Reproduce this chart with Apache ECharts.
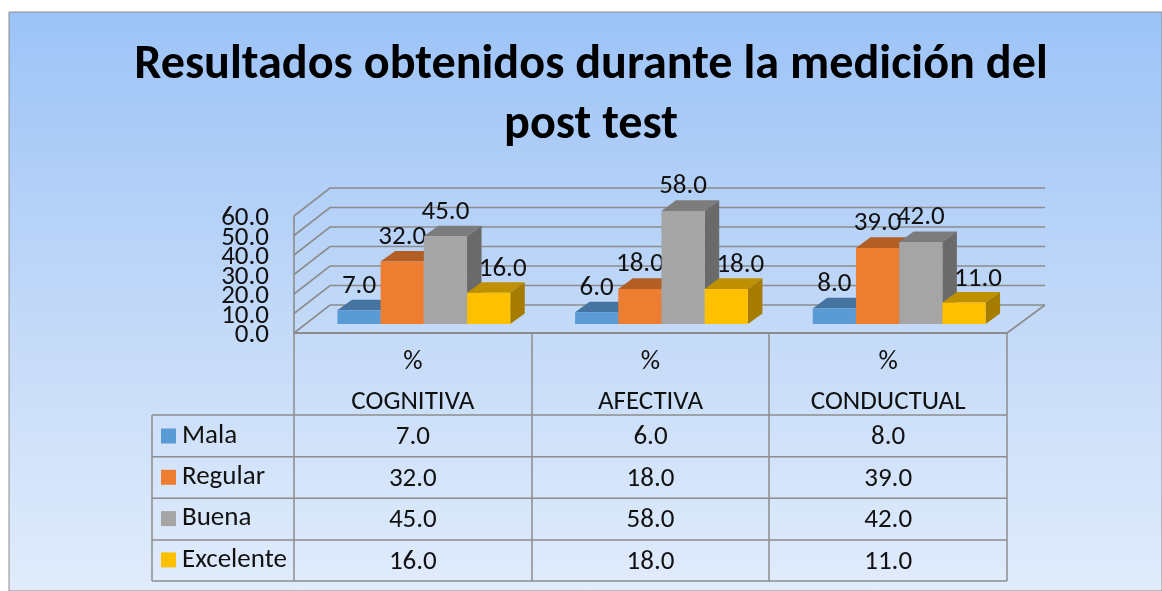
<!DOCTYPE html>
<html><head><meta charset="utf-8">
<style>html,body{margin:0;padding:0;background:#fff}#c{width:1162px;height:591px}</style>
<script src="https://cdn.jsdelivr.net/npm/echarts@6/dist/echarts.min.js"></script>
</head><body><div id="c"></div>
<script>
const categories = ['COGNITIVA', 'AFECTIVA', 'CONDUCTUAL'];
const unitRow = ['%', '%', '%'];
const mala = [7, 6, 8];
const regular = [32, 18, 39];
const buena = [45, 58, 42];
const excelente = [16, 18, 11];
const seriesNames = ['Mala', 'Regular', 'Buena', 'Excelente'];
const yTicks = [0, 10, 20, 30, 40, 50, 60];
const titleText = 'Resultados obtenidos durante la medición del\npost test';

const FONT = 'Carlito, Lato, sans-serif';
const LINE = '#8c8c8c';
const faces = [
  {front: '#5b9bd5', top: '#44749f', side: '#3a6690', labelDx: 0, labelDy: 24.5},
  {front: '#ed7d31', top: '#b25e25', side: '#9c5220', labelDx: 0, labelDy: 24.5},
  {front: '#a5a5a5', top: '#7c7c7c', side: '#6a6a6a', labelDx: 0, labelDy: 24.5},
  {front: '#ffc000', top: '#bf9000', side: '#a67c00', labelDx: 14, labelDy: 23.5}
];
const allValues = [mala, regular, buena, excelente];
const DEPTH_X = 36, DEPTH_Y = 28;           // wall depth
const BAR_DX = 11, BAR_DY = 9;              // bars stand inside the floor
const BAR_SIDE_X = 14.5, BAR_SIDE_Y = 10.6; // depth of a bar
const ROW_Y = [415, 456.7, 498.3, 540, 581];
const TABLE_L = 152, TABLE_R = 1007, FLOOR_Y = 333, LEFT = 294;
const VAL_SIZE = 27, TXT_SIZE = 27;

function barSeries(sIdx) {
  const c = faces[sIdx];
  return {
    type: 'custom', name: seriesNames[sIdx], coordinateSystem: 'cartesian2d',
    itemStyle: {color: c.front},
    z: 5 + sIdx,
    data: allValues[sIdx].map((v, i) => [i, v]),
    encode: {x: 0, y: 1},
    renderItem(params, api) {
      const cat = api.value(0), val = api.value(1);
      const top = api.coord([cat, val]), base = api.coord([cat, 0]);
      const bw = api.size([1, 0])[0] / 5.5;
      const x = top[0] + BAR_DX - 2 * bw + sIdx * bw;
      const y0 = top[1] - BAR_DY, y1 = base[1] - BAR_DY;
      const dx = BAR_SIDE_X, dy = BAR_SIDE_Y;
      return {type: 'group', children: [
        {type: 'polygon', shape: {points: [[x, y0], [x + dx, y0 - dy], [x + bw + dx, y0 - dy], [x + bw, y0]]}, style: {fill: c.top}},
        {type: 'polygon', shape: {points: [[x + bw, y0], [x + bw + dx, y0 - dy], [x + bw + dx, y1 - dy], [x + bw, y1]]}, style: {fill: c.side}},
        {type: 'rect', shape: {x: x, y: y0, width: bw, height: y1 - y0}, style: {fill: c.front}},
        {type: 'text', z2: 100, style: {x: x + bw / 2 + c.labelDx, y: y0 - c.labelDy, text: val.toFixed(1), fill: '#111', font: VAL_SIZE + 'px ' + FONT, align: 'center', verticalAlign: 'middle'}}
      ]};
    }
  };
}

// Walls and floor of the 3D box, with the value-axis tick labels (they overlap on purpose).
const wallSeries = {
  type: 'custom', coordinateSystem: 'cartesian2d', z: 1, silent: true,
  data: yTicks.map(t => [0, t]),
  encode: {y: 1},
  renderItem(params, api) {
    const tick = api.value(1);
    const y = api.coord([0, tick])[1];
    const rightBack = TABLE_R + 38;
    const st = {stroke: LINE, lineWidth: 1.6, fill: 'none'};
    const kids = [
      {type: 'polyline', shape: {points: [[LEFT, y], [LEFT + DEPTH_X, y - DEPTH_Y], [rightBack, y - DEPTH_Y]]}, style: st},
      {type: 'text', z2: 50, style: {x: 269, y: y + 2.5, text: tick.toFixed(1), fill: '#111', font: VAL_SIZE + 'px ' + FONT, align: 'right', verticalAlign: 'middle'}}
    ];
    if (tick === 0) kids.push({type: 'line', shape: {x1: TABLE_R, y1: y, x2: rightBack, y2: y - DEPTH_Y}, style: st});
    return {type: 'group', children: kids};
  }
};

const tableRows = [unitRow, categories].concat(allValues.map(a => a.map(v => v.toFixed(1))));
const tableCells = [];
tableRows.forEach((row, r) => row.forEach((t, c) => tableCells.push([c, r, t])));
const ROW_TEXT_Y = [362, 402, 437.5, 479, 520.5, 562];
const tableSeries = {
  type: 'custom', coordinateSystem: 'cartesian2d', z: 20, silent: true,
  data: tableCells,
  encode: {x: 0},
  renderItem(params, api) {
    const x = api.coord([api.value(0), 0])[0];
    const cell = tableCells[params.dataIndex];
    return {type: 'text', style: {x: x, y: ROW_TEXT_Y[cell[1]], text: cell[2], fill: '#111', font: TXT_SIZE + 'px ' + FONT, align: 'center', verticalAlign: 'middle'}};
  }
};

const tableLines = [];
ROW_Y.forEach(y => tableLines.push({type: 'line', z: 10, shape: {x1: TABLE_L, y1: y, x2: TABLE_R, y2: y}, style: {stroke: LINE, lineWidth: 1.5}}));
tableLines.push({type: 'line', z: 10, shape: {x1: TABLE_L, y1: ROW_Y[0], x2: TABLE_L, y2: ROW_Y[4]}, style: {stroke: LINE, lineWidth: 1.5}});
[LEFT, 532, 769, TABLE_R].forEach(x => tableLines.push({type: 'line', z: 10, shape: {x1: x, y1: FLOOR_Y, x2: x, y2: ROW_Y[4]}, style: {stroke: LINE, lineWidth: 1.5}}));

const chart = echarts.init(document.getElementById('c'), null, {renderer: 'canvas'});
chart.setOption({
  animation: false,
  backgroundColor: '#fff',
  title: {
    text: titleText, left: 586, top: 31, textAlign: 'center',
    textStyle: {fontFamily: FONT, fontWeight: 'bold', fontSize: 48.2, lineHeight: 60, color: '#000'}
  },
  legend: {
    data: seriesNames, orient: 'vertical', left: 156, top: 417.5, height: 173, itemWidth: 15, itemHeight: 15, itemGap: 14.3, icon: 'rect',
    selectedMode: false,
    textStyle: {fontFamily: FONT, fontSize: TXT_SIZE, color: '#111', padding: [5, 0, 0, 1]}
  },
  grid: {left: LEFT, top: 216, width: TABLE_R - LEFT, height: FLOOR_Y - 216},
  xAxis: {type: 'category', data: categories, axisTick: {show: false}, axisLabel: {show: false},
    axisLine: {lineStyle: {color: LINE, width: 2}}},
  yAxis: {type: 'value', min: 0, max: 60, interval: 10, splitLine: {show: false}, axisTick: {show: false},
    axisLine: {show: true, lineStyle: {color: LINE, width: 1.6}},
    axisLabel: {show: false}},
  graphic: [
    {type: 'rect', z: -10, shape: {x: 9, y: 12, width: 1153, height: 579},
      style: {stroke: '#8c8c8c', lineWidth: 1,
        fill: new echarts.graphic.LinearGradient(0, 0, 0, 1, [{offset: 0, color: '#9cc3f7'}, {offset: 0.55, color: '#c4daf8'}, {offset: 1, color: '#e1ecfc'}])}}
  ].concat(tableLines),
  series: [wallSeries, barSeries(0), barSeries(1), barSeries(2), barSeries(3), tableSeries]
});
</script></body></html>
